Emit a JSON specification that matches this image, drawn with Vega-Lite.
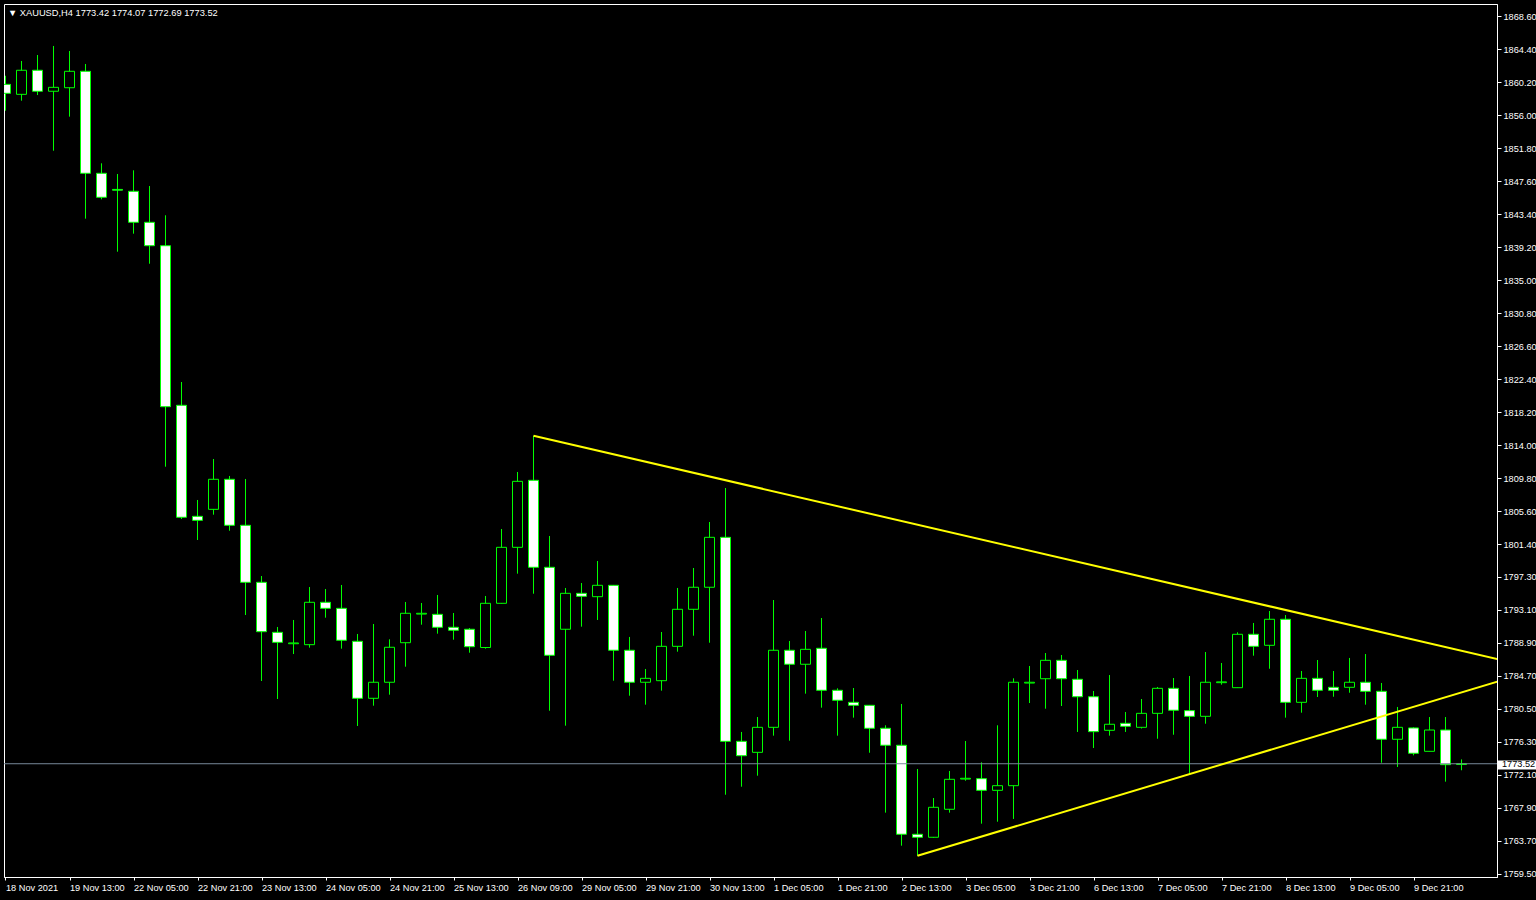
{
  "$schema": "https://vega.github.io/schema/vega-lite/v6.json",
  "autosize": {"type": "none"},
  "padding": {"left": 4, "top": 4, "right": 39, "bottom": 23},
  "width": 1493,
  "height": 873,
  "background": "black",
  "title": {"text": "▼ XAUUSD,H4  1773.42 1774.07 1772.69 1773.52", "anchor": "start", "frame": "group", "orient": "top", "offset": -21, "baseline": "alphabetic", "dx": 4, "font": "Liberation Sans", "fontSize": 9.3, "fontWeight": "normal", "color": "white"},
  "datasets": {
    "candles": [
      {"i":0,"o":1859.91,"h":1861.00,"l":1856.56,"c":1858.77},
      {"i":1,"o":1858.64,"h":1862.88,"l":1857.83,"c":1861.70},
      {"i":2,"o":1861.70,"h":1863.64,"l":1858.55,"c":1859.03},
      {"i":3,"o":1859.03,"h":1864.79,"l":1851.47,"c":1859.53},
      {"i":4,"o":1859.48,"h":1864.15,"l":1855.80,"c":1861.57},
      {"i":5,"o":1861.57,"h":1862.50,"l":1842.83,"c":1848.60},
      {"i":6,"o":1848.60,"h":1849.87,"l":1845.29,"c":1845.55},
      {"i":7,"o":1846.55,"h":1848.51,"l":1838.63,"c":1846.45},
      {"i":8,"o":1846.31,"h":1848.98,"l":1840.92,"c":1842.37},
      {"i":9,"o":1842.37,"h":1846.98,"l":1837.10,"c":1839.39},
      {"i":10,"o":1839.39,"h":1843.26,"l":1811.29,"c":1818.92},
      {"i":11,"o":1819.10,"h":1822.06,"l":1804.64,"c":1804.86},
      {"i":12,"o":1804.98,"h":1807.06,"l":1801.97,"c":1804.47},
      {"i":13,"o":1805.87,"h":1812.27,"l":1805.19,"c":1809.69},
      {"i":14,"o":1809.69,"h":1810.11,"l":1803.15,"c":1803.84},
      {"i":15,"o":1803.84,"h":1809.73,"l":1792.43,"c":1796.59},
      {"i":16,"o":1796.59,"h":1797.39,"l":1784.04,"c":1790.31},
      {"i":17,"o":1790.23,"h":1790.91,"l":1781.75,"c":1788.96},
      {"i":18,"o":1788.78,"h":1791.80,"l":1787.47,"c":1788.88},
      {"i":19,"o":1788.66,"h":1795.99,"l":1788.28,"c":1794.05},
      {"i":20,"o":1794.05,"h":1795.74,"l":1792.09,"c":1793.28},
      {"i":21,"o":1793.28,"h":1796.25,"l":1788.15,"c":1789.22},
      {"i":22,"o":1789.09,"h":1790.02,"l":1778.32,"c":1781.84},
      {"i":23,"o":1781.84,"h":1791.29,"l":1780.90,"c":1783.88},
      {"i":24,"o":1783.88,"h":1789.34,"l":1782.30,"c":1788.33},
      {"i":25,"o":1788.91,"h":1794.09,"l":1785.86,"c":1792.65},
      {"i":26,"o":1792.55,"h":1793.96,"l":1791.20,"c":1792.65},
      {"i":27,"o":1792.52,"h":1794.98,"l":1790.06,"c":1790.87},
      {"i":28,"o":1790.87,"h":1792.69,"l":1789.29,"c":1790.49},
      {"i":29,"o":1790.62,"h":1790.78,"l":1787.64,"c":1788.40},
      {"i":30,"o":1788.30,"h":1794.85,"l":1788.15,"c":1793.92},
      {"i":31,"o":1793.92,"h":1803.37,"l":1793.90,"c":1801.04},
      {"i":32,"o":1801.04,"h":1810.62,"l":1797.69,"c":1809.43},
      {"i":33,"o":1809.56,"h":1815.23,"l":1795.14,"c":1798.50},
      {"i":34,"o":1798.50,"h":1802.48,"l":1780.26,"c":1787.31},
      {"i":35,"o":1790.62,"h":1795.87,"l":1778.36,"c":1795.19},
      {"i":36,"o":1795.19,"h":1796.50,"l":1790.95,"c":1794.81},
      {"i":37,"o":1794.76,"h":1799.30,"l":1791.80,"c":1796.21},
      {"i":38,"o":1796.21,"h":1796.25,"l":1784.08,"c":1787.95},
      {"i":39,"o":1787.95,"h":1789.64,"l":1782.17,"c":1783.88},
      {"i":40,"o":1783.88,"h":1785.57,"l":1781.03,"c":1784.38},
      {"i":41,"o":1784.08,"h":1790.27,"l":1782.81,"c":1788.45},
      {"i":42,"o":1788.45,"h":1795.87,"l":1787.77,"c":1793.16},
      {"i":43,"o":1793.16,"h":1798.41,"l":1789.80,"c":1795.96},
      {"i":44,"o":1795.96,"h":1804.26,"l":1788.91,"c":1802.31},
      {"i":45,"o":1802.31,"h":1808.58,"l":1769.58,"c":1776.37},
      {"i":46,"o":1776.37,"h":1777.56,"l":1770.60,"c":1774.54},
      {"i":47,"o":1774.97,"h":1779.46,"l":1772.00,"c":1778.15},
      {"i":48,"o":1778.15,"h":1794.34,"l":1777.09,"c":1787.95},
      {"i":49,"o":1787.95,"h":1789.13,"l":1776.45,"c":1786.17},
      {"i":50,"o":1786.17,"h":1790.40,"l":1782.43,"c":1788.07},
      {"i":51,"o":1788.20,"h":1792.05,"l":1780.65,"c":1782.86},
      {"i":52,"o":1782.86,"h":1783.11,"l":1777.09,"c":1781.59},
      {"i":53,"o":1781.33,"h":1783.15,"l":1779.38,"c":1780.95},
      {"i":54,"o":1780.95,"h":1780.99,"l":1774.92,"c":1778.03},
      {"i":55,"o":1778.03,"h":1778.41,"l":1767.30,"c":1775.87},
      {"i":56,"o":1775.87,"h":1781.12,"l":1763.10,"c":1764.55},
      {"i":57,"o":1764.55,"h":1772.85,"l":1761.79,"c":1764.17},
      {"i":58,"o":1764.17,"h":1769.16,"l":1764.10,"c":1767.98},
      {"i":59,"o":1767.73,"h":1772.60,"l":1767.30,"c":1771.54},
      {"i":60,"o":1771.57,"h":1776.41,"l":1771.36,"c":1771.67},
      {"i":61,"o":1771.62,"h":1773.70,"l":1765.90,"c":1770.14},
      {"i":62,"o":1770.14,"h":1778.41,"l":1766.15,"c":1770.73},
      {"i":63,"o":1770.73,"h":1784.38,"l":1766.50,"c":1783.88},
      {"i":64,"o":1783.78,"h":1785.95,"l":1781.24,"c":1783.88},
      {"i":65,"o":1784.33,"h":1787.60,"l":1780.52,"c":1786.67},
      {"i":66,"o":1786.67,"h":1787.35,"l":1780.86,"c":1784.33},
      {"i":67,"o":1784.26,"h":1785.44,"l":1777.56,"c":1782.04},
      {"i":68,"o":1782.04,"h":1782.77,"l":1775.52,"c":1777.60},
      {"i":69,"o":1777.77,"h":1784.80,"l":1777.09,"c":1778.54},
      {"i":70,"o":1778.66,"h":1780.10,"l":1777.56,"c":1778.28},
      {"i":71,"o":1778.15,"h":1781.75,"l":1778.00,"c":1779.93},
      {"i":72,"o":1779.93,"h":1783.28,"l":1776.70,"c":1783.11},
      {"i":73,"o":1783.11,"h":1784.42,"l":1777.21,"c":1780.32},
      {"i":74,"o":1780.27,"h":1784.68,"l":1772.25,"c":1779.55},
      {"i":75,"o":1779.55,"h":1787.73,"l":1778.61,"c":1783.88},
      {"i":76,"o":1783.83,"h":1786.33,"l":1783.57,"c":1783.93},
      {"i":77,"o":1783.19,"h":1790.23,"l":1783.19,"c":1789.98},
      {"i":78,"o":1789.98,"h":1791.42,"l":1787.26,"c":1788.45},
      {"i":79,"o":1788.58,"h":1792.94,"l":1785.60,"c":1791.89},
      {"i":80,"o":1791.89,"h":1792.43,"l":1779.38,"c":1781.33},
      {"i":81,"o":1781.33,"h":1785.31,"l":1780.01,"c":1784.38},
      {"i":82,"o":1784.38,"h":1786.71,"l":1782.01,"c":1782.86},
      {"i":83,"o":1783.24,"h":1785.31,"l":1782.04,"c":1782.86},
      {"i":84,"o":1783.24,"h":1786.97,"l":1782.55,"c":1783.88},
      {"i":85,"o":1783.88,"h":1787.47,"l":1781.03,"c":1782.73},
      {"i":86,"o":1782.73,"h":1783.79,"l":1773.65,"c":1776.63},
      {"i":87,"o":1776.63,"h":1780.74,"l":1773.11,"c":1778.15},
      {"i":88,"o":1778.07,"h":1778.15,"l":1774.59,"c":1774.85},
      {"i":89,"o":1775.10,"h":1779.46,"l":1775.10,"c":1777.81},
      {"i":90,"o":1777.81,"h":1779.46,"l":1771.24,"c":1773.40},
      {"i":91,"o":1773.42,"h":1774.07,"l":1772.69,"c":1773.52}
    ],
    "trend": [
      {"line":"upper","i":33,"p":1815.23},
      {"line":"upper","i":93.3,"p":1786.80},
      {"line":"lower","i":57,"p":1761.82},
      {"line":"lower","i":93.3,"p":1783.99}
    ],
    "last": [
      {"price": 1773.52, "label": "1773.52"}
    ]
  },
  "config": {
    "view": {"stroke": "white", "strokeWidth": 1},
    "scale": {"continuousPadding": 0},
    "axis": {"domainColor": "white", "tickColor": "white", "labelColor": "white", "labelFont": "Liberation Sans", "grid": false, "domainWidth": 1, "tickWidth": 1, "title": null, "labelOverlap": false, "labelFlush": false, "labelBound": false}
  },
  "layer": [
    {
      "data": {"name": "candles"},
      "mark": {"type": "rule", "color": "#00FF00", "strokeWidth": 1, "clip": true},
      "encoding": {
        "x": {"field": "i", "type": "quantitative", "scale": {"domain": [-0.09375, 93.21875], "nice": false, "zero": false, "padding": 0},
          "axis": {"orient": "bottom", "values": [0,4,8,12,16,20,24,28,32,36,40,44,48,52,56,60,64,68,72,76,80,84,88], "tickCount": 40,
            "labelExpr": "['18 Nov 2021','19 Nov 13:00','22 Nov 05:00','22 Nov 21:00','23 Nov 13:00','24 Nov 05:00','24 Nov 21:00','25 Nov 13:00','26 Nov 09:00','29 Nov 05:00','29 Nov 21:00','30 Nov 13:00','1 Dec 05:00','1 Dec 21:00','2 Dec 13:00','3 Dec 05:00','3 Dec 21:00','6 Dec 13:00','7 Dec 05:00','7 Dec 21:00','8 Dec 13:00','9 Dec 05:00','9 Dec 21:00'][round(datum.value/4)]",
            "tickSize": 3, "labelAlign": "left", "labelBaseline": "top", "labelPadding": 3, "labelFontSize": 9.2, "labelOverlap": false, "labelFlush": false, "labelBound": false, "title": null}},
        "y": {"field": "l", "type": "quantitative", "scale": {"domain": [1759.118, 1870.126], "nice": false, "zero": false, "padding": 0},
          "axis": {"orient": "right", "values": [1759.5,1763.7,1767.9,1772.1,1776.3,1780.5,1784.7,1788.9,1793.1,1797.3,1801.4,1805.6,1809.8,1814,1818.2,1822.4,1826.6,1830.8,1835,1839.2,1843.4,1847.6,1851.8,1856,1860.2,1864.4,1868.6], "tickCount": 60,
            "format": ".2f", "tickSize": 4, "labelPadding": 2, "labelFontSize": 9.2, "labelBaseline": "middle", "labelOverlap": false, "labelFlush": false, "labelBound": false, "title": null}},
        "y2": {"field": "h"}
      }
    },
    {
      "data": {"name": "candles"},
      "mark": {"type": "bar", "width": 10, "stroke": "#00FF00", "strokeWidth": 1, "clip": true},
      "encoding": {
        "x": {"field": "i", "type": "quantitative", "scale": {"domain": [-0.09375, 93.21875], "nice": false, "zero": false, "padding": 0}},
        "y": {"field": "o", "type": "quantitative", "scale": {"domain": [1759.118, 1870.126], "nice": false, "zero": false, "padding": 0}},
        "y2": {"field": "c"},
        "fill": {"condition": {"test": "datum.c < datum.o", "value": "white"}, "value": "black"}
      }
    },
    {
      "data": {"name": "last"},
      "mark": {"type": "rule", "color": "#778899", "strokeWidth": 1},
      "encoding": {
        "y": {"field": "price", "type": "quantitative", "scale": {"domain": [1759.118, 1870.126], "nice": false, "zero": false, "padding": 0}}
      }
    },
    {
      "data": {"name": "trend"},
      "mark": {"type": "line", "color": "#FFFF00", "strokeWidth": 2, "clip": true},
      "encoding": {
        "x": {"field": "i", "type": "quantitative", "scale": {"domain": [-0.09375, 93.21875], "nice": false, "zero": false, "padding": 0}},
        "y": {"field": "p", "type": "quantitative", "scale": {"domain": [1759.118, 1870.126], "nice": false, "zero": false, "padding": 0}},
        "detail": {"field": "line"}
      }
    },
    {
      "data": {"name": "last"},
      "mark": {"type": "rect", "color": "white", "clip": false},
      "encoding": {
        "x": {"datum": 93.25, "type": "quantitative", "scale": {"domain": [-0.09375, 93.21875], "nice": false, "zero": false, "padding": 0}},
        "x2": {"datum": 95.7},
        "y": {"datum": 1773.93, "type": "quantitative", "scale": {"domain": [1759.118, 1870.126], "nice": false, "zero": false, "padding": 0}},
        "y2": {"datum": 1772.80}
      }
    },
    {
      "data": {"name": "last"},
      "mark": {"type": "text", "color": "black", "align": "left", "baseline": "middle", "font": "Liberation Sans", "fontSize": 9.2, "clip": false},
      "encoding": {
        "text": {"field": "label"},
        "x": {"datum": 93.53, "type": "quantitative", "scale": {"domain": [-0.09375, 93.21875], "nice": false, "zero": false, "padding": 0}},
        "y": {"field": "price", "type": "quantitative", "scale": {"domain": [1759.118, 1870.126], "nice": false, "zero": false, "padding": 0}}
      }
    }
  ]
}
